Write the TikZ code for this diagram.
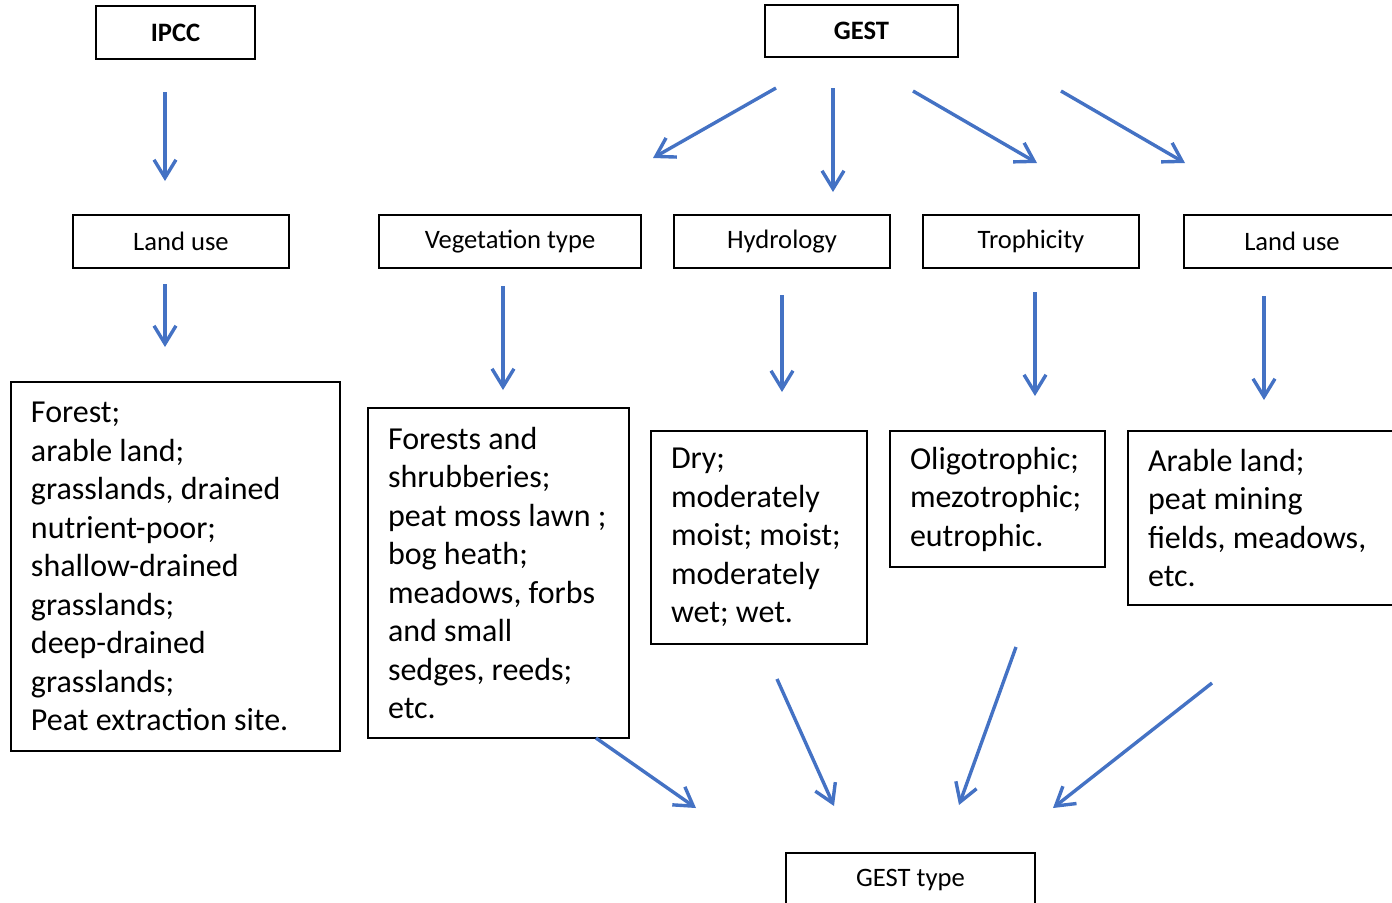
\documentclass[tikz,border=0pt]{standalone}
\usepackage{fontspec}
\setmainfont{Carlito}
\usepackage{tikz}
\usetikzlibrary{arrows.meta}
\frenchspacing
\definecolor{arrowblue}{RGB}{68,114,196}
\tikzset{
  head/.style={draw, line width=1pt, inner sep=0pt, minimum height=26.5pt,
    font=\fontsize{13.3}{16}\selectfont},
  list/.style={draw, line width=1pt, inner xsep=10pt, inner ysep=0pt, align=flush left,
    font=\fontsize{16}{19.25}\selectfont},
  flow/.style={draw=arrowblue, line width=1.7pt, -{Straight Barb[length=9pt,width=11pt]}}
}

\begin{document}
\begin{tikzpicture}[x=0.5pt, y=-0.5pt]
    \useasboundingbox (0,0) rectangle (1392,902);

    \node[head, minimum width=79.5pt] (ipcc) at (175.5,32.5) {\textbf{IPCC}};
    \node[head, minimum width=96.5pt, minimum height=26pt] (gest) at (861.5,31) {\textbf{GEST}};

    \node[head, minimum width=108pt] (landA) at (181,241.5) {Land use};
    \node[head, minimum width=131pt] (veg) at (510,241.5) {Vegetation type};
    \node[head, minimum width=108pt] (hydro) at (782,241.5) {Hydrology};
    \node[head, minimum width=108pt] (troph) at (1031,241.5) {Trophicity};
    \node[head, minimum width=108pt] (landB) at (1292,241.5) {Land use};

    \node[list, text width=144.5pt, minimum height=184.5pt] (ipccList) at (175.5,566.5)
      {Forest;\\ arable land;\\ grasslands, drained\\ nutrient-poor;\\ shallow-drained\\
       grasslands;\\ deep-drained\\ grasslands;\\ Peat extraction site.};
    \node[list, text width=110.5pt, minimum height=165pt] (vegList) at (498.5,573)
      {Forests and\\ shrubberies;\\ peat~moss~lawn~;\\ bog heath;\\ meadows,~forbs\\
       and small\\ sedges, reeds;\\ etc.};
    \node[list, text width=88pt, minimum height=106.5pt] (hydroList) at (759,537.5)
      {Dry;\\ moderately\\ moist;~moist;\\ moderately\\ wet; wet.};
    \node[list, text width=87.5pt, minimum height=68pt] (trophList) at (997.5,499)
      {Oligotrophic;\\ mezotrophic;\\ eutrophic.};
    \node[list, text width=114pt, minimum height=87pt] (landList) at (1262,518)
      {Arable land;\\ peat mining\\ fields,~meadows,\\ etc.};

    \node[head, minimum width=124.5pt] (gestType) at (910.5,879.5) {GEST type};

    \coordinate (s1) at (165,92);   \coordinate (t1) at (165,181);
    \coordinate (s2) at (165,284);  \coordinate (t2) at (165,347);
    \coordinate (s3) at (776,88);   \coordinate (t3) at (653,158);
    \coordinate (s4) at (833,88);   \coordinate (t4) at (833,192);
    \coordinate (s5) at (913,91);   \coordinate (t5) at (1037,163);
    \coordinate (s6) at (1061,91);  \coordinate (t6) at (1185,163);
    \coordinate (s7) at (503,286);  \coordinate (t7) at (503,390);
    \coordinate (s8) at (782,295);  \coordinate (t8) at (782,392);
    \coordinate (s9) at (1035,292); \coordinate (t9) at (1035,396);
    \coordinate (s10) at (1264,296); \coordinate (t10) at (1264,400);
    \coordinate (s11) at (596,738); \coordinate (t11) at (696,808);
    \coordinate (s12) at (777,679); \coordinate (t12) at (834,806);
    \coordinate (s13) at (1016,647); \coordinate (t13) at (959,805);
    \coordinate (s14) at (1212,683); \coordinate (t14) at (1053,808);

    \draw (s1) edge[flow] (t1);
    \draw (s2) edge[flow] (t2);
    \draw (s3) edge[flow] (t3);
    \draw (s4) edge[flow] (t4);
    \draw (s5) edge[flow] (t5);
    \draw (s6) edge[flow] (t6);
    \draw (s7) edge[flow] (t7);
    \draw (s8) edge[flow] (t8);
    \draw (s9) edge[flow] (t9);
    \draw (s10) edge[flow] (t10);
    \draw (s11) edge[flow] (t11);
    \draw (s12) edge[flow] (t12);
    \draw (s13) edge[flow] (t13);
    \draw (s14) edge[flow] (t14);
\end{tikzpicture}
\end{document}
